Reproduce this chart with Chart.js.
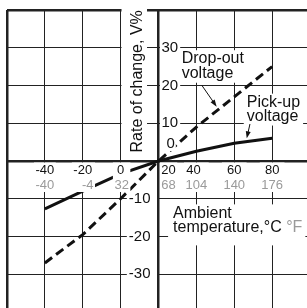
<!DOCTYPE html>
<html>
<head>
<meta charset="utf-8">
<script src="https://cdn.jsdelivr.net/npm/chart.js@4/dist/chart.umd.min.js"></script>
<style>
  html, body { margin: 0; padding: 0; background: #fff; overflow: hidden; }
  #wrap { width: 307px; height: 308px; overflow: hidden; position: relative; }
  #wrap canvas { position: absolute; left: 0; top: 0; }
</style>
</head>
<body>
<div id="wrap"><canvas id="chart" width="320" height="320"></canvas></div>
<script>
// ambient temperature in °C and the matching °F labels
const tempC = [-40, -20, 0, 20, 40, 60, 80];
const tempF = [-40, -4, 32, 68, 104, 140, 176];
// rate of change, V%
const dropOut = [-27, -19.5, -10, 0, 9, 17, 25];
const pickUp = [-12.7, -8, -3.4, 0, 2.6, 4.7, 6];
const rateTicks = [30, 20, 10, 0, -10, -20, -30];

const FONT = '"Liberation Sans", Arial, Helvetica, sans-serif';
const INK = "#111";
const GREY = "#9a9a9a";

// small nudges for the tick labels next to the crossing axes
const cShift = { 20: 10, 40: -3 };
const fShift = { "-4": 5, 68: 10, 32: 1 };

function xy(ys) {
  return tempC.map((c, i) => ({ x: c, y: ys[i] }));
}

function bgText(ctx, text, left, base, color) {
  ctx.fillStyle = color;
  ctx.fillText(text, left, base);
}

function arrow(ctx, x0, y0, x1, y1) {
  const a = Math.atan2(y1 - y0, x1 - x0);
  ctx.strokeStyle = INK;
  ctx.lineWidth = 1;
  ctx.beginPath();
  ctx.moveTo(x0, y0);
  ctx.lineTo(x1 - 4 * Math.cos(a), y1 - 4 * Math.sin(a));
  ctx.stroke();
  ctx.fillStyle = INK;
  ctx.beginPath();
  ctx.moveTo(x1, y1);
  ctx.lineTo(x1 - 7 * Math.cos(a) + 2.5 * Math.sin(a), y1 - 7 * Math.sin(a) - 2.5 * Math.cos(a));
  ctx.lineTo(x1 - 7 * Math.cos(a) - 2.5 * Math.sin(a), y1 - 7 * Math.sin(a) + 2.5 * Math.cos(a));
  ctx.closePath();
  ctx.fill();
}

const overlay = {
  id: "overlay",
  afterDatasetsDraw(chart) {
    const { ctx, scales: { x, y } } = chart;
    const ax = x.getPixelForValue(20);
    const ay = y.getPixelForValue(0);
    ctx.save();

    // y tick labels, positive to the right of the axis, negative to the left
    ctx.font = "15px " + FONT;
    ctx.textBaseline = "middle";
    ctx.textAlign = "left";
    rateTicks.forEach(v => {
      const t = String(v);
      const w = ctx.measureText(t).width;
      let py = y.getPixelForValue(v);
      let left;
      ctx.fillStyle = "#fff";
      if (v > 0) {
        left = ax + 3;
        ctx.fillRect(ax + 1.5, py - 7, left + w + 2 - (ax + 1.5), 14);
      } else if (v === 0) {
        left = ax + 8;
        py -= 17;
        ctx.fillRect(left - 1, py - 7, w + 2, 14);
      } else {
        left = ax - 8 - w;
        ctx.fillRect(left - 2, py - 7, ax - 1.5 - (left - 2), 14);
      }
      bgText(ctx, t, left, py, INK);
    });

    // x tick labels, °C over °F
    ctx.font = "13px " + FONT;
    ctx.textAlign = "center";
    tempC.forEach((c, i) => {
      const f = tempF[i];
      const cx = x.getPixelForValue(c) + (cShift[c] || 0);
      const fx = x.getPixelForValue(c) + (fShift[f] || 0);
      const wc = ctx.measureText(String(c)).width;
      const wf = ctx.measureText(String(f)).width;
      const l = Math.min(cx - wc / 2, fx - wf / 2) - 1.5;
      const r = Math.max(cx + wc / 2, fx + wf / 2) + 1.5;
      ctx.fillStyle = "#fff";
      ctx.fillRect(Math.max(l, c === 20 ? ax + 1.5 : l), ay + 1.5, r - Math.max(l, c === 20 ? ax + 1.5 : l), 29.5);
      bgText(ctx, String(c), cx, ay + 9, INK);
      bgText(ctx, String(f), fx, ay + 24, GREY);
    });

    // vertical axis title
    ctx.font = "16px " + FONT;
    ctx.textAlign = "left";
    ctx.textBaseline = "alphabetic";
    const title = "Rate of change, V%";
    const tw = ctx.measureText(title).width;
    ctx.save();
    ctx.translate(x.getPixelForValue(11.3), y.getPixelForValue(2.25));
    ctx.rotate(-Math.PI / 2);
    ctx.fillStyle = "#fff";
    ctx.fillRect(-3, -20.5, tw + 6, 25.5);
    bgText(ctx, title, 0, 0, INK);
    ctx.restore();

    // curve notes
    const notes = [
      { lines: ["Drop-out", "voltage"], c: 32.25, v: 25.9, lh: 15 },
      { lines: ["Pick-up", "voltage"], c: 66.6, v: 14.4, lh: 14.4 }
    ];
    notes.forEach(n => {
      const left = x.getPixelForValue(n.c);
      const base = y.getPixelForValue(n.v);
      const w = Math.max(...n.lines.map(t => ctx.measureText(t).width));
      ctx.fillStyle = "#fff";
      ctx.fillRect(left - 3, base - 13, w + 6, n.lh + 17.5);
      n.lines.forEach((t, k) => bgText(ctx, t, left, base + k * n.lh, INK));
    });

    // horizontal axis title
    const al = x.getPixelForValue(27.7);
    const ab = y.getPixelForValue(-15.2);
    const part1 = "temperature,°C ";
    const w1 = ctx.measureText(part1).width;
    const w2 = ctx.measureText("°F").width;
    ctx.fillStyle = "#fff";
    ctx.fillRect(al - 5, ab - 14, w1 + w2 + 8, 41);
    bgText(ctx, "Ambient", al, ab, INK);
    bgText(ctx, part1, al, ab + 14, INK);
    bgText(ctx, "°F", al + w1, ab + 14, GREY);

    // leader arrows
    arrow(ctx, x.getPixelForValue(42.8), y.getPixelForValue(20.1), x.getPixelForValue(50.7), y.getPixelForValue(14.4));
    arrow(ctx, x.getPixelForValue(68.3), y.getPixelForValue(9.8), x.getPixelForValue(66.6), y.getPixelForValue(6.0));

    ctx.restore();
  }
};

const thick = v => ctx => (v.includes(ctx.tick.value) ? 2.5 : 1);

new Chart(document.getElementById("chart"), {
  type: "scatter",
  data: {
    datasets: [
      {
        label: "Drop-out voltage",
        data: xy(dropOut),
        showLine: true,
        borderColor: INK,
        borderWidth: 3,
        borderDash: [9, 5],
        pointRadius: 0,
        tension: 0
      },
      {
        label: "Pick-up voltage",
        data: xy(pickUp),
        showLine: true,
        borderColor: INK,
        borderWidth: 3,
        pointRadius: 0,
        tension: 0
      }
    ]
  },
  options: {
    responsive: false,
    animation: false,
    devicePixelRatio: 1,
    layout: { padding: { left: 7, top: 10, right: 10, bottom: 8 } },
    plugins: { legend: { display: false }, tooltip: { enabled: false } },
    scales: {
      x: {
        type: "linear",
        min: -60,
        max: 100,
        ticks: { display: false, stepSize: 20 },
        grid: { drawTicks: false, color: "#222", lineWidth: thick([-60, 20]) },
        border: { display: false }
      },
      y: {
        min: -40,
        max: 40,
        ticks: { display: false, stepSize: 10 },
        grid: { drawTicks: false, color: "#222", lineWidth: thick([40, 0]) },
        border: { display: false }
      }
    }
  },
  plugins: [overlay]
});
</script>
</body>
</html>
